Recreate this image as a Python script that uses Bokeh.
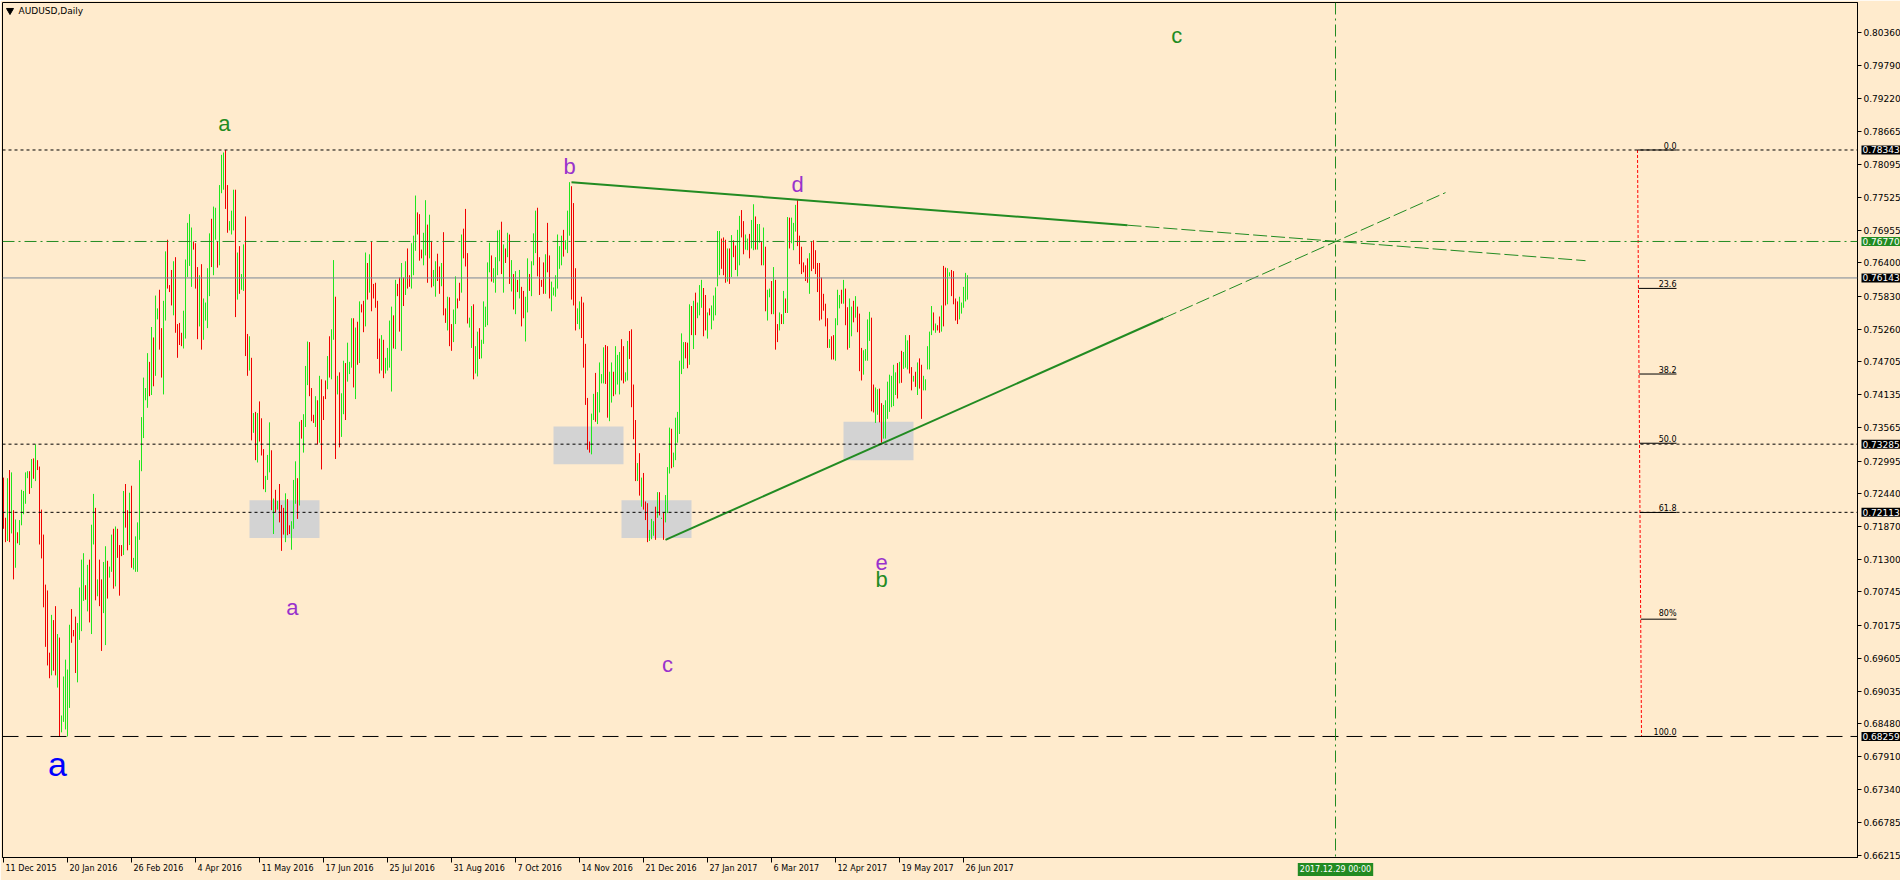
from bokeh.plotting import figure
from bokeh.models import Range1d, FixedTicker, PrintfTickFormatter, Span, ColumnDataSource, CustomJSTickFormatter
from bokeh.core.properties import value
from bokeh.embed import file_html
from bokeh.resources import INLINE

# ---------------- data (daily AUDUSD bars) ----------------
highs = [
0.7271,0.7202,0.7270,0.7284,0.7280,0.7215,0.7199,0.7177,0.7198,0.7250,
0.7248,0.7280,0.7282,0.7282,0.7303,0.7304,0.7328,0.7301,0.7290,0.7216,
0.7173,0.7087,0.7077,0.6970,0.7035,0.7026,0.7050,0.7002,0.6996,0.6862,
0.6929,0.6958,0.6941,0.7018,0.7045,0.7009,0.7032,0.7021,0.7082,0.7130,
0.7141,0.7086,0.7121,0.7130,0.7190,0.7243,0.7219,0.7096,0.7130,0.7096,
0.7126,0.7153,0.7128,0.7118,0.7173,0.7183,0.7187,0.7183,0.7155,0.7155,
0.7248,0.7260,0.7215,0.7245,0.7257,0.7133,0.7170,0.7194,0.7301,0.7375,
0.7443,0.7425,0.7485,0.7470,0.7530,0.7512,0.7584,0.7562,0.7594,0.7528,
0.7575,0.7660,0.7680,0.7602,0.7628,0.7643,0.7650,0.7535,0.7537,0.7520,
0.7558,0.7646,0.7709,0.7724,0.7701,0.7677,0.7674,0.7633,0.7619,0.7638,
0.7579,0.7572,0.7631,0.7691,0.7716,0.7737,0.7735,0.7677,0.7774,0.7826,
0.7830,0.7834,0.7774,0.7712,0.7730,0.7766,0.7766,0.7658,0.7669,0.7621,
0.7672,0.7720,0.7518,0.7514,
0.7477,0.7382,0.7384,0.7382,0.7402,0.7373,0.7320,0.7274,0.7310,0.7366,
0.7318,0.7235,0.7250,0.7231,0.7260,0.7224,0.7219,0.7244,0.7234,0.7189,
0.7196,0.7267,0.7299,0.7270,0.7367,0.7370,0.7380,0.7463,0.7505,0.7504,
0.7425,0.7379,0.7411,0.7404,0.7446,0.7440,0.7411,0.7438,0.7480,0.7514,
0.7526,0.7645,0.7582,0.7446,0.7452,0.7416,0.7472,0.7468,0.7503,0.7470,
0.7545,0.7545,0.7529,0.7539,0.7574,0.7569,0.7575,0.7658,0.7640,0.7655,
0.7677,0.7604,0.7606,0.7575,0.7510,0.7516,0.7508,0.7477,0.7494,0.7541,
0.7565,0.7550,0.7611,0.7604,0.7615,0.7640,0.7615,0.7643,0.7665,0.7619,
0.7674,0.7687,0.7756,0.7727,0.7724,0.7663,0.7692,0.7748,0.7706,0.7723,
0.7678,0.7628,0.7643,0.7656,0.7634,0.7640,0.7693,0.7562,0.7582,0.7581,
0.7535,0.7560,0.7617,0.7579,0.7606,0.7689,0.7699,0.7733,0.7657,0.7546,
0.7566,0.7569,0.7497,0.7522,0.7528,0.7508,0.7574,0.7565,0.7641,0.7675,
0.7653,0.7631,0.7650,0.7696,0.7697,0.7711,0.7672,0.7665,0.7692,0.7689,
0.7645,0.7621,0.7626,0.7611,0.7628,0.7599,0.7592,0.7582,0.7648,0.7621,
0.7643,0.7691,0.7730,0.7735,0.7650,0.7611,0.7641,0.7655,0.7709,0.7653,
0.7608,0.7598,0.7619,0.7689,0.7669,0.7687,0.7697,0.7679,0.7730,0.7779,
0.7772,0.7743,0.7631,0.7562,0.7574,0.7582,0.7572,0.7501,0.7408,0.7333,
0.7381,0.7415,0.7451,0.7418,0.7469,0.7449,0.7495,0.7499,0.7497,0.7453,
0.7469,0.7453,0.7497,0.7482,0.7487,0.7509,0.7497,0.7452,0.7506,0.7523,
0.7526,0.7431,0.7370,0.7296,0.7313,0.7271,0.7279,0.7230,0.7227,0.7181,
0.7200,0.7196,0.7221,0.7246,0.7246,0.7202,0.7211,0.7241,0.7289,0.7357,
0.7355,0.7314,0.7374,0.7384,0.7472,0.7519,0.7504,0.7504,0.7503,0.7569,
0.7566,0.7575,0.7589,0.7572,0.7602,0.7611,0.7597,0.7585,0.7555,0.7562,
0.7567,0.7584,0.7598,0.7695,0.7695,0.7682,0.7684,0.7680,0.7665,0.7665,
0.7688,0.7679,0.7670,0.7697,0.7721,0.7731,0.7712,0.7689,0.7682,0.7690,
0.7714,0.7741,0.7720,0.7707,0.7707,0.7676,0.7701,0.7668,0.7594,0.7596,
0.7609,0.7633,0.7611,0.7535,0.7555,0.7552,0.7592,0.7579,0.7719,0.7718,
0.7718,0.7709,0.7740,0.7750,0.7687,0.7668,0.7641,0.7636,0.7648,0.7657,
0.7676,0.7679,0.7662,0.7640,0.7640,0.7615,0.7587,0.7570,0.7545,0.7509,
0.7514,0.7516,0.7545,0.7594,0.7585,0.7594,0.7611,0.7596,0.7564,0.7579,
0.7565,0.7575,0.7583,0.7565,0.7553,0.7494,0.7490,0.7492,0.7543,0.7556,
0.7546,0.7431,0.7426,0.7423,0.7424,0.7399,0.7396,0.7404,0.7436,0.7448,
0.7446,0.7465,0.7452,0.7468,0.7470,0.7489,0.7487,0.7516,0.7507,0.7516,
0.7461,0.7446,0.7453,0.7469,0.7476,0.7465,0.7446,0.7440,0.7497,0.7522,
0.7566,0.7555,0.7536,0.7533,0.7548,0.7567,0.7635,0.7632,0.7631,0.7624,
0.7628,0.7626,0.7579,0.7574,0.7582,0.7572,0.7599,0.7623,0.7619,
]
lows = [
0.7183,0.7160,0.7162,0.7160,0.7175,0.7096,0.7116,0.7158,0.7155,0.7189,
0.7208,0.7226,0.7270,0.7243,0.7253,0.7269,0.7265,0.7284,0.7156,0.7132,
0.7048,0.6980,0.6948,0.6926,0.6931,0.6939,0.6931,0.6910,0.6826,0.6833,
0.6851,0.6838,0.6826,0.6875,0.6987,0.6998,0.6935,0.6919,0.6992,0.7007,
0.7059,0.7061,0.7041,0.7022,0.7002,0.7156,0.7060,0.7067,0.7050,0.6973,
0.7038,0.6983,0.7063,0.7099,0.7109,0.7080,0.7084,0.7133,0.7068,0.7136,
0.7138,0.7185,0.7146,0.7155,0.7116,0.7113,0.7109,0.7109,0.7164,0.7282,
0.7339,0.7404,0.7391,0.7411,0.7413,0.7428,0.7446,0.7543,0.7491,0.7443,
0.7414,0.7541,0.7596,0.7590,0.7567,0.7550,0.7520,0.7477,0.7499,0.7497,
0.7493,0.7510,0.7616,0.7635,0.7599,0.7663,0.7596,0.7509,0.7531,0.7491,
0.7508,0.7541,0.7528,0.7583,0.7633,0.7619,0.7680,0.7632,0.7636,0.7760,
0.7766,0.7733,0.7692,0.7696,0.7689,0.7696,0.7547,0.7577,0.7587,0.7594,
0.7592,0.7480,0.7446,0.7455,
0.7335,0.7348,0.7301,0.7297,0.7333,0.7309,0.7251,0.7246,0.7267,0.7280,
0.7215,0.7174,0.7211,0.7216,0.7194,0.7145,0.7173,0.7160,0.7172,0.7174,
0.7147,0.7183,0.7226,0.7200,0.7223,0.7338,0.7314,0.7358,0.7430,0.7411,
0.7368,0.7365,0.7358,0.7328,0.7331,0.7285,0.7370,0.7406,0.7423,0.7443,
0.7440,0.7508,0.7303,0.7414,0.7323,0.7341,0.7380,0.7370,0.7436,0.7449,
0.7460,0.7426,0.7406,0.7465,0.7468,0.7555,0.7521,0.7531,0.7577,0.7589,
0.7557,0.7579,0.7563,0.7475,0.7450,0.7455,0.7442,0.7450,0.7455,0.7460,
0.7419,0.7493,0.7492,0.7583,0.7522,0.7489,0.7566,0.7585,0.7596,0.7599,
0.7596,0.7619,0.7661,0.7689,0.7644,0.7648,0.7636,0.7653,0.7606,0.7648,
0.7598,0.7600,0.7582,0.7609,0.7587,0.7600,0.7550,0.7537,0.7524,0.7497,
0.7489,0.7504,0.7535,0.7562,0.7575,0.7589,0.7648,0.7634,0.7536,0.7529,
0.7494,0.7440,0.7450,0.7445,0.7475,0.7476,0.7501,0.7530,0.7533,0.7624,
0.7608,0.7606,0.7589,0.7619,0.7643,0.7621,0.7589,0.7640,0.7650,0.7604,
0.7591,0.7560,0.7552,0.7590,0.7579,0.7531,0.7545,0.7505,0.7555,0.7592,
0.7583,0.7636,0.7657,0.7617,0.7585,0.7599,0.7587,0.7587,0.7624,0.7579,
0.7557,0.7584,0.7582,0.7596,0.7630,0.7636,0.7651,0.7663,0.7657,0.7687,
0.7577,0.7567,0.7524,0.7535,0.7526,0.7511,0.7460,0.7396,0.7319,0.7314,
0.7311,0.7370,0.7367,0.7363,0.7383,0.7433,0.7433,0.7432,0.7374,0.7368,
0.7400,0.7411,0.7414,0.7431,0.7414,0.7438,0.7433,0.7436,0.7438,0.7475,
0.7392,0.7337,0.7265,0.7265,0.7240,0.7221,0.7216,0.7198,0.7160,0.7162,
0.7165,0.7171,0.7164,0.7202,0.7206,0.7200,0.7164,0.7194,0.7210,0.7278,
0.7287,0.7289,0.7301,0.7331,0.7346,0.7449,0.7458,0.7476,0.7459,0.7465,
0.7516,0.7492,0.7516,0.7545,0.7550,0.7563,0.7514,0.7524,0.7510,0.7550,
0.7526,0.7541,0.7550,0.7600,0.7619,0.7630,0.7619,0.7606,0.7608,0.7604,
0.7616,0.7650,0.7628,0.7617,0.7636,0.7684,0.7655,0.7663,0.7662,0.7648,
0.7665,0.7662,0.7663,0.7663,0.7675,0.7636,0.7636,0.7557,0.7541,0.7581,
0.7552,0.7552,0.7491,0.7504,0.7524,0.7535,0.7535,0.7554,0.7554,0.7665,
0.7674,0.7662,0.7694,0.7669,0.7638,0.7621,0.7624,0.7609,0.7606,0.7587,
0.7626,0.7630,0.7621,0.7590,0.7541,0.7543,0.7558,0.7531,0.7494,0.7494,
0.7474,0.7474,0.7472,0.7533,0.7562,0.7570,0.7570,0.7533,0.7491,0.7494,
0.7514,0.7538,0.7546,0.7521,0.7454,0.7438,0.7448,0.7472,0.7472,0.7506,
0.7385,0.7383,0.7365,0.7379,0.7366,0.7331,0.7338,0.7338,0.7372,0.7384,
0.7392,0.7394,0.7413,0.7407,0.7433,0.7434,0.7458,0.7460,0.7457,0.7450,
0.7421,0.7436,0.7427,0.7413,0.7424,0.7372,0.7421,0.7421,0.7457,0.7457,
0.7516,0.7524,0.7520,0.7524,0.7520,0.7522,0.7531,0.7567,0.7569,0.7617,
0.7583,0.7569,0.7541,0.7535,0.7543,0.7553,0.7563,0.7574,0.7577,
]
# G = bullish bar, R = bearish bar
direction = (
"RRGRGRGRGG" "GGGRGRGRRR" "RRRRGRRGRG" "GGGGRRRGGG" "GRGRGGRGRR" "GGRGGRGRRR"
"GRRGRGGGGG" "GGGRGRGGRR" "GGRRRGRRRR" "GGGGGRRRGR" "GGGGRGGRGG" "GRRGGGRGRG" "GRRG"
"RGRGRRRGGG" "RGRGRRRGRR" "GGGRGRGGGR" "RRGRGRRRGR" "GGRGRGGRGG" "GRGRGRRGRG"
"RRRRRGRGGG" "GRGRRGRGRR" "GGGRRRGGRG" "RGGRRGRRGR" "RGGRRGRRRG" "GRGGRGGGGG"
"RGGGGRGRGR" "GRGRGRRGGR" "GGGRRRRGRR" "GGGGGGRGGG" "RRRGGRRRRR" "GGRGGGGRRG"
"GRGGGRRGGR" "RRRGRGRRRG" "GGRGRGRGGG" "RGGGGGGRRG" "RGRGGGRRGR" "GGGGGRRRGR"
"GRRGGRRGGR" "GGRGGRGRGG" "RGRRGRGRGR" "GGGRRRRRRG" "RRRRRRRRRG" "RRGGGRGRRG"
"GRGRRRGGGG" "RRGGRRGGGG" "GGGRGRGGGR" "RGRGRRGGGG" "GRGRRGRRGG" "RRRRGGGGG"
)

date_labels = ["11 Dec 2015", "20 Jan 2016", "26 Feb 2016", "4 Apr 2016", "11 May 2016",
               "17 Jun 2016", "25 Jul 2016", "31 Aug 2016", "7 Oct 2016", "14 Nov 2016",
               "21 Dec 2016", "27 Jan 2017", "6 Mar 2017", "12 Apr 2017", "19 May 2017",
               "26 Jun 2017"]
date_label_bars = [0, 32, 64, 96, 128, 160, 192, 224, 256, 288, 320, 352, 384, 416, 448, 480]

price_ticks = [0.80360, 0.79790, 0.79220, 0.78665, 0.78095, 0.77525, 0.76955, 0.76400,
               0.75830, 0.75260, 0.74705, 0.74135, 0.73565, 0.72995, 0.72440, 0.71870,
               0.71300, 0.70745, 0.70175, 0.69605, 0.69035, 0.68480, 0.67910, 0.67340,
               0.66785, 0.66215]

dotted_levels = [0.78343, 0.73285, 0.72113]
dashed_levels = [0.68259]
dashdot_levels = [0.76770]
solid_levels = [0.76143]
marked_prices = [0.78343, 0.76770, 0.76143, 0.73285, 0.72113, 0.68259]
marked_kind = ["black", "green", "black", "black", "black", "black"]

vline_bar = 666
vline_text = "2017.12.29 00:00"

upper_line_bars = [284, 562, 791]
upper_line_prices = [0.7779, 0.7705, 0.7644]
lower_line_bars = [331, 580, 721]
lower_line_prices = [0.7164, 0.7545, 0.7761]

zone_left = [123, 275, 309, 420]
zone_right = [158, 310, 344, 455]
zone_top = [0.7232, 0.7359, 0.7232, 0.7367]
zone_bottom = [0.7167, 0.7294, 0.7167, 0.7301]

fib_bars = [817, 819]
fib_prices = [0.78343, 0.68259]
fib_levels = [0.0, 23.6, 38.2, 50.0, 61.8, 80.0, 100.0]
fib_texts = ["0.0", "23.6", "38.2", "50.0", "61.8", "80%", "100.0"]
fib_end_bar = 836.5

wave_texts = ["a", "b", "d", "c", "a", "c", "e", "b", "a"]
wave_bars = [110.4, 283, 397, 586.6, 144.4, 332, 439, 439, 27]
wave_prices = [0.7879, 0.7806, 0.7775, 0.8031, 0.7048, 0.6950, 0.7125, 0.7096, 0.6779]
wave_kind = ["green", "purple", "purple", "green", "purple", "purple", "purple", "green", "blue"]

# ---------------- styles ----------------
BG = "#FFEBCD"
UP = "#1EE61E"
DOWN = "#F00000"
GREEN = "#228B22"
KIND_COLOR = {"green": GREEN, "purple": "#9932CC", "blue": "#0000FF", "black": "#000000"}
KIND_SIZE = {"green": "22px", "purple": "22px", "blue": "34px"}
AX_FONT = "DejaVu Sans"
WAVE_FONT = "Liberation Sans"

FRAME_W, FRAME_H = 1855, 855
PX_PRICE = 0.00017194          # price per pixel
X0 = -0.5
X1 = X0 + FRAME_W / 2.0        # 2 px per bar
Y1 = 0.80879
Y0 = Y1 - FRAME_H * PX_PRICE

p = figure(frame_width=FRAME_W, frame_height=FRAME_H,
           min_border_left=2, min_border_top=2, min_border_right=43, min_border_bottom=23,
           x_range=Range1d(X0, X1), y_range=Range1d(Y0, Y1),
           y_axis_location="right", output_backend="svg", toolbar_location=None)
p.background_fill_color = BG
p.border_fill_color = BG
p.outline_line_color = "black"
p.outline_line_width = 1
p.xgrid.visible = False
p.ygrid.visible = False

ya = p.yaxis[0]
ya.ticker = FixedTicker(ticks=price_ticks)
ya.formatter = PrintfTickFormatter(format="%.5f")
ya.major_label_text_font = AX_FONT
ya.major_label_text_font_size = "9px"
ya.major_label_text_color = "black"
ya.major_tick_out = 4
ya.major_tick_in = 0
ya.minor_tick_out = 0
ya.minor_tick_in = 0
ya.major_label_standoff = 2
ya.axis_line_color = "black"

xa = p.xaxis[0]
xa.ticker = FixedTicker(ticks=date_label_bars)
xa.formatter = CustomJSTickFormatter(code="return ''")
xa.major_tick_out = 5
xa.major_tick_in = 0
xa.minor_tick_out = 0
xa.minor_tick_in = 0
xa.axis_line_color = "black"
xa.major_label_text_font_size = "1px"

# grey zones (under bars)
p.quad(left=zone_left, right=zone_right, top=zone_top, bottom=zone_bottom,
       fill_color="#D3D3D3", line_color=None)

# bars
n = len(highs)
assert len(lows) == n and len(direction) == n
src = ColumnDataSource(dict(x=list(range(n)), hi=highs, lo=lows,
                            c=[UP if d == "G" else DOWN for d in direction]))
p.segment(x0="x", y0="lo", x1="x", y1="hi", line_color="c", line_width=1, source=src)

# horizontal / vertical lines
for lv in dotted_levels:
    p.add_layout(Span(location=lv, dimension="width", line_color="black", line_width=1, line_dash="3 3"))
for lv in dashed_levels:
    p.add_layout(Span(location=lv, dimension="width", line_color="black", line_width=1, line_dash="16 8"))
for lv in dashdot_levels:
    p.add_layout(Span(location=lv, dimension="width", line_color=GREEN, line_width=1, line_dash="12 4 2 4"))
for lv in solid_levels:
    p.add_layout(Span(location=lv, dimension="width", line_color="#7A8796", line_width=1))
p.add_layout(Span(location=vline_bar, dimension="height", line_color=GREEN, line_width=1, line_dash="12 4 2 4"))

# trend lines
p.line(upper_line_bars[:2], upper_line_prices[:2], line_color=GREEN, line_width=2)
p.line(upper_line_bars[1:], upper_line_prices[1:], line_color=GREEN, line_width=1, line_dash="14 4")
p.line(lower_line_bars[:2], lower_line_prices[:2], line_color=GREEN, line_width=2)
p.line(lower_line_bars[1:], lower_line_prices[1:], line_color=GREEN, line_width=1, line_dash="14 4")

# fibonacci
p.line(fib_bars, fib_prices, line_color="red", line_width=1, line_dash="3 2")
rng = fib_prices[0] - fib_prices[1]
lvl_prices = [fib_prices[0] - l / 100.0 * rng for l in fib_levels]
lvl_start = [fib_bars[0] + l / 100.0 * (fib_bars[1] - fib_bars[0]) for l in fib_levels]
p.segment(x0=lvl_start, y0=lvl_prices, x1=[fib_end_bar] * len(fib_levels), y1=lvl_prices,
          line_color="black", line_width=1)
p.text(x=[fib_end_bar] * len(fib_levels), y=lvl_prices, text=fib_texts,
       text_align="right", text_baseline="bottom", y_offset=-1,
       text_font=value(AX_FONT), text_font_size="8px", text_color="black")

# wave labels
wsrc = ColumnDataSource(dict(x=wave_bars, y=wave_prices, t=wave_texts,
                             c=[KIND_COLOR[k] for k in wave_kind],
                             s=[KIND_SIZE[k] for k in wave_kind]))
p.text(x="x", y="y", text="t", text_color="c", text_font_size="s",
       text_align="center", text_baseline="middle", text_font=value(WAVE_FONT), source=wsrc)

# title
p.scatter(x=[3.25], y=[Y1 - 8 * PX_PRICE], marker="inverted_triangle", size=7,
          fill_color="black", line_color="black")
p.text(x=[7.5], y=[Y1 - 8 * PX_PRICE], text=["AUDUSD,Daily"], text_baseline="middle",
       text_align="left", text_font=value(AX_FONT), text_font_size="9px", text_color="black")

# date labels under the axis (anchored on the frame edge, drawn below it)
p.text(x=date_label_bars, y=[Y0 + 0.5 * PX_PRICE] * len(date_label_bars), text=date_labels,
       x_offset=2, y_offset=7, text_align="left", text_baseline="top",
       text_font=value(AX_FONT), text_font_size="8px", text_color="black", level="overlay")
p.text(x=[vline_bar], y=[Y0 + 0.5 * PX_PRICE], text=[vline_text], y_offset=6,
       text_align="center", text_baseline="top", text_font=value(AX_FONT), text_font_size="8px",
       text_color="white", background_fill_color=GREEN, padding=2, level="overlay")

# marked prices on the right scale
msrc = ColumnDataSource(dict(x=[X1 - 0.25] * len(marked_prices), y=marked_prices,
                             t=["%.5f" % v for v in marked_prices],
                             bg=[KIND_COLOR[k] for k in marked_kind]))
p.text(x="x", y="y", text="t", x_offset=4.5, text_align="left", text_baseline="middle",
       text_font=value(AX_FONT), text_font_size="9px", text_color="white",
       background_fill_color="bg", padding=1, level="overlay", source=msrc)

open("out.html", "w").write(file_html(p, INLINE))
